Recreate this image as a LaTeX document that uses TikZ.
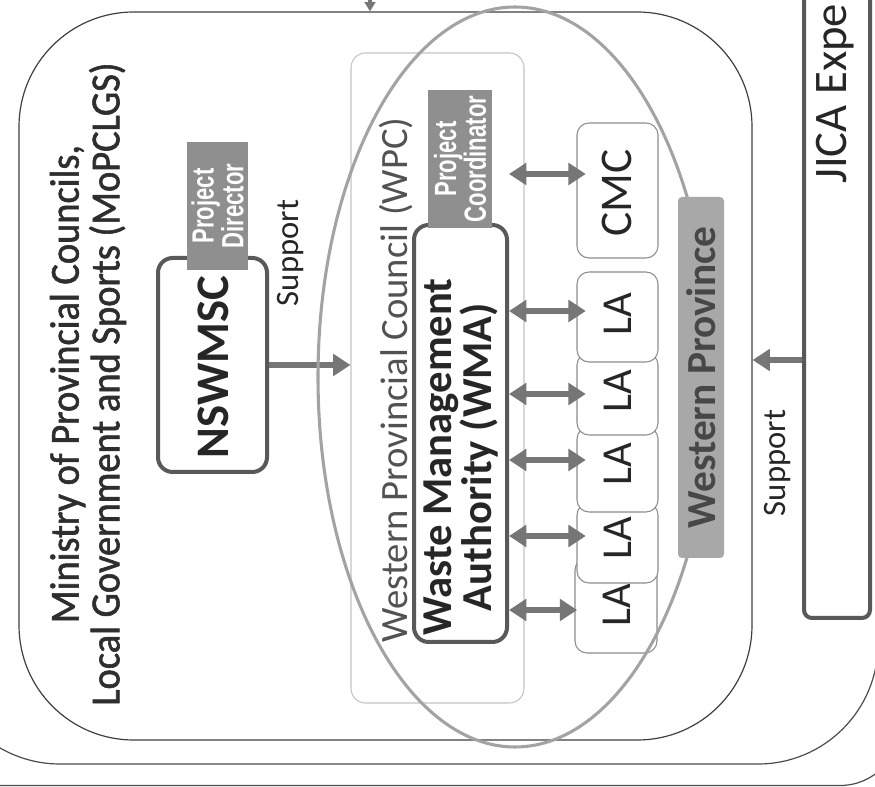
\documentclass[tikz,border=0pt]{standalone}
\usepackage{fontspec}
\setmainfont{Carlito}
\newfontfamily\lblfont[FakeStretch=0.72]{Liberation Sans}
\newfontfamily\titlefont[FakeStretch=0.93,FakeBold=1.4]{Carlito}
\usetikzlibrary{fit,arrows.meta}
\definecolor{cDark}{HTML}{595959}
\definecolor{cThin}{HTML}{8C8C8C}
\definecolor{cWpc}{HTML}{C4C4C4}
\definecolor{cLbl}{HTML}{8F8F8F}
\definecolor{cWp}{HTML}{A8A8A8}
\definecolor{cArr}{HTML}{767676}
\definecolor{cEll}{HTML}{A3A3A3}
\definecolor{cTxt}{HTML}{262626}
\begin{document}
\begin{tikzpicture}[x=0.75pt,y=-0.75pt,
  outerline/.style={draw=black!70, line width=0.9pt},
  fitbox/.style={inner sep=0pt},
  heavybox/.style={fitbox, draw=cDark, line width=3pt, rounded corners=11pt, fill=white},
  lightbox/.style={fitbox, draw=cThin, line width=0.8pt, rounded corners=9pt, fill=white},
  lbl/.style={fitbox, fill=cLbl},
  lbltext/.style={rotate=90, text=white, align=center, inner sep=0pt, font={\lblfont\bfseries\fontsize{23}{21}\selectfont}},
  rtext/.style={rotate=90, align=center, inner sep=0pt, text=cTxt},
  sarr/.style={-{Triangle[width=16pt,length=13pt]}, draw=cArr, line width=4.5pt},
  smallarr/.style={-{Triangle[width=8pt,length=7pt]}, draw=cArr, line width=2.5pt},
  darr/.style={{Triangle[width=16pt,length=13pt]}-{Triangle[width=16pt,length=13pt]}, draw=cArr, line width=4.5pt, shorten >=-7pt}
]
\useasboundingbox (0,0) rectangle (875,787);
\clip (0,0) rectangle (875,787);
\fill[white] (0,0) rectangle (875,787);

% outer frames
\draw[outerline, rounded corners=45pt] (-100,-100) rectangle (900,785.5);
\draw[outerline, rounded corners=90pt] (-60,-100) rectangle (878,764);
\node[fitbox, draw=black!75, line width=0.9pt, rounded corners=86pt, fit={(19,12) (752,740)}] (mop) {};

% arrow entering from above
\coordinate (topsrc) at (370,-12);
\draw[smallarr] (topsrc) -- (topsrc |- mop.north);

% JICA expert box
\node[fitbox, draw=cDark, line width=3pt, rounded corners=6pt, fill=white, fit={(804,-30) (870,618)}] (jica) {};
\node[rtext, anchor=base west, font={\fontsize{35}{36}\selectfont}] (jicat) at (846,184) {JICA Expe};
\coordinate (jy) at (0,360);
\draw[sarr] (jica.west |- jy) -- (mop.east |- jy);
\node[rtext, font={\fontsize{24.5}{26}\selectfont}] (sup2) at (778,463) {Support};

% title
\node[rtext, text=black!82, font={\titlefont\fontsize{31}{30.5}\selectfont}] (title) at (88,384) {Ministry of Provincial Councils,\\Local Government and Sports (MoPCLGS)};

% WPC
\node[fitbox, draw=cWpc, line width=0.8pt, rounded corners=11pt, fill=white, fit={(351,53) (524,703)}] (wpc) {};
\node[rtext, text=black!68, font={\fontsize{29}{30}\selectfont}] (wpct) at (396,380) {Western Provincial Council (WPC)};

% NSWMSC
\node[heavybox, fit={(158,258) (267,472)}] (nsw) {};
\node[rtext, font={\bfseries\fontsize{35}{36}\selectfont}] (nswt) at (213,367) {NSWMSC};
\node[lbl, fit={(187,142) (248,270)}] (pd) {};
\node[lbltext] (pdt) at (pd.center) {Project\\Director};
\node[rtext, font={\fontsize{24.5}{26}\selectfont}] (sup1) at (291,253) {Support};
\draw[sarr] (nsw.east) -- (nsw.east -| wpc.west);

% WMA
\node[heavybox, fit={(414,225) (507,642)}] (wma) {};
\node[rtext, font={\bfseries\fontsize{32}{28}\selectfont}] (wmat) at (461,457) {Waste Management\\Authority (WMA)};
\node[lbl, fit={(428,90) (492,228)}] (pc) {};
\node[lbltext] (pct) at (pc.center) {Project\\Coordinator};

% CMC and LAs
\node[lightbox, fit={(577,123) (658,258)}] (cmc) {};
\node[rtext, font={\fontsize{34}{34}\selectfont}] (cmct) at (617,193) {CMC};
\node[lightbox, fit={(575,558) (657,653)}] (la1) {};
\node[rtext, font={\fontsize{32}{32}\selectfont}] (la1t) at (617,605) {LA};
\node[lightbox, fit={(577,503) (658,583)}] (la2) {};
\node[rtext, font={\fontsize{32}{32}\selectfont}] (la2t) at (618,538) {LA};
\node[lightbox, fit={(577,427) (658,512)}] (la3) {};
\node[rtext, font={\fontsize{32}{32}\selectfont}] (la3t) at (618,464) {LA};
\node[lightbox, fit={(577,353) (658,435)}] (la4) {};
\node[rtext, font={\fontsize{32}{32}\selectfont}] (la4t) at (618,391) {LA};
\node[lightbox, fit={(577,272) (658,362)}] (la5) {};
\node[rtext, font={\fontsize{32}{32}\selectfont}] (la5t) at (618,314) {LA};

% double arrows
\coordinate (ycmc) at (0,174);
\coordinate (y5) at (0,311);
\coordinate (y4) at (0,394);
\coordinate (y3) at (0,460);
\coordinate (y2) at (0,536);
\coordinate (y1) at (0,610);
\draw[darr] (wma.east |- ycmc) -- (cmc.west |- ycmc);
\draw[darr] (wma.east |- y5) -- (la5.west |- y5);
\draw[darr] (wma.east |- y4) -- (la4.west |- y4);
\draw[darr] (wma.east |- y3) -- (la3.west |- y3);
\draw[darr] (wma.east |- y2) -- (la2.west |- y2);
\draw[darr, shorten >=-2pt] (wma.east |- y1) -- (la1.west |- y1);

% Western Province ellipse
\draw[draw=cEll, line width=2.3pt] (515,377) ellipse [x radius=197, y radius=370];
\node[fitbox, fill=cWp, rounded corners=3pt, fit={(678,197) (724,558)}] (wp) {};
\node[rtext, text=black!72, font={\bfseries\fontsize{31}{31}\selectfont}] (wpt) at (wp.center) {Western Province};
\end{tikzpicture}
\end{document}
